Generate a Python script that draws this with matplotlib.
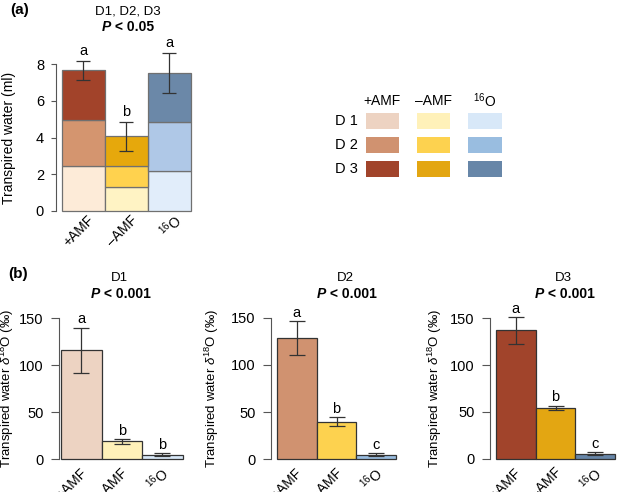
import matplotlib
matplotlib.use("Agg")
import matplotlib.pyplot as plt
from matplotlib.patches import Rectangle

plt.rcParams['font.family'] = ['Liberation Sans', 'DejaVu Sans']
plt.rcParams['mathtext.fontset'] = 'custom'
plt.rcParams['mathtext.rm'] = 'Liberation Sans'
plt.rcParams['mathtext.it'] = 'Liberation Sans:italic'
plt.rcParams['mathtext.bf'] = 'Liberation Sans:bold'

# ---------------- data ----------------
groups = ['+AMF', '\u2013AMF', r'$^{16}$O']
days = ['D 1', 'D 2', 'D 3']

# panel (a): transpired water (ml), per day segment (stacked)
ml_d1 = [2.45, 1.29, 2.19]
ml_d2 = [2.50, 1.17, 2.63]
ml_d3 = [2.70, 1.60, 2.70]
ml_total_err = [0.52, 0.79, 1.10]
ml_letters = ['a', 'b', 'a']

# panel (b): transpired water d18O (permil)
d18o_d1 = [116, 19, 5]
d18o_d1_err = [24, 2.5, 1.5]
d18o_d1_letters = ['a', 'b', 'b']
d18o_d2 = [128.5, 40, 5]
d18o_d2_err = [18, 4.4, 1.2]
d18o_d2_letters = ['a', 'b', 'c']
d18o_d3 = [137, 54.5, 5.5]
d18o_d3_err = [14.5, 2.3, 1.5]
d18o_d3_letters = ['a', 'b', 'c']

# ---------------- styles ----------------
cols_a = [['#FDEBD8', '#FFF3C4', '#E1EDFA'],
          ['#D4956F', '#FFD24E', '#AFC8E7'],
          ['#A2432A', '#E6A80C', '#6B88A8']]
cols_b = [['#EDD3C2', '#FFF1B9', '#D8E8F8'],
          ['#D09270', '#FDD24F', '#99BDE0'],
          ['#A1442B', '#E3A612', '#6786A8']]

W, H = 624, 492
fig = plt.figure(figsize=(W / 100, H / 100), dpi=100)


def add_ax(x0, x1, ytop, ybot):
    return fig.add_axes([x0 / W, 1 - ybot / H, (x1 - x0) / W, (ybot - ytop) / H])


def ftext(x, y, s, **kw):
    fig.text(x / W, 1 - y / H, s, **kw)


def style_ax(ax, ticklen):
    for s in ['top', 'right', 'bottom']:
        ax.spines[s].set_visible(False)
    ax.spines['left'].set_color('#555555')
    ax.spines['left'].set_linewidth(0.8)
    ax.tick_params(axis='y', length=ticklen, width=0.8, color='#555555',
                   labelsize=10.5, pad=5)
    ax.set_xticks([])
    ax.patch.set_visible(False)


def xlabels(ax, dx, dy):
    for i, g in enumerate(groups):
        ax.annotate(g, xy=(i, 0), xycoords='data', xytext=(dx, dy),
                    textcoords='offset points', rotation=45, ha='right',
                    va='center', rotation_mode='anchor', fontsize=10,
                    annotation_clip=False)


# ---------------- panel (a) ----------------
axa = add_ax(56, 191, 64, 211)
x = range(3)
bottom = [0, 0, 0]
for k, seg in enumerate([ml_d1, ml_d2, ml_d3]):
    axa.bar(x, seg, width=1.0, bottom=bottom, color=cols_a[k],
            edgecolor='#707070', linewidth=0.9, clip_on=False, zorder=2)
    bottom = [b + s for b, s in zip(bottom, seg)]
axa.errorbar(x, bottom, yerr=ml_total_err, fmt='none', ecolor='#333333',
             elinewidth=0.9, capsize=5, capthick=0.9, clip_on=False, zorder=3)
for i, (t, e, l) in enumerate(zip(bottom, ml_total_err, ml_letters)):
    axa.annotate(l, xy=(i, t + e), xytext=(0, 2), textcoords='offset points',
                 ha='center', va='bottom', fontsize=10.5, annotation_clip=False)
axa.set_xlim(-0.632, 2.5)
axa.set_ylim(0, 8)
axa.set_yticks([0, 2, 4, 6, 8])
style_ax(axa, 3.6)
xlabels(axa, 6.5, -5)
axa.set_ylabel('Transpired water (ml)', fontsize=10)
axa.yaxis.set_label_coords((16 - 56) / 135, 0.5)

ftext(10, 10, '(a)', fontsize=11, fontweight='bold', ha='left', va='center')
ftext(128, 11, 'D1, D2, D3', fontsize=9.5, ha='center', va='center')
ftext(111, 27, 'P', fontsize=10, fontweight='bold', style='italic', ha='right', va='center')
ftext(111, 27, ' < 0.05', fontsize=10, fontweight='bold', ha='left', va='center')

# legend block
col_x = [(366, 398.7), (417.3, 450), (468.3, 501.7)]
row_y = [(113.3, 129.3), (136.7, 152.7), (161, 176.7)]
for j, g in enumerate(groups):
    ftext((col_x[j][0] + col_x[j][1]) / 2, 101, g, fontsize=10, ha='center', va='center')
for k, d in enumerate(days):
    ftext(358, (row_y[k][0] + row_y[k][1]) / 2, d, fontsize=10.5, ha='right', va='center')
    for j in range(3):
        x0, x1 = col_x[j]
        y0, y1 = row_y[k]
        fig.add_artist(Rectangle((x0 / W, 1 - y1 / H), (x1 - x0) / W, (y1 - y0) / H,
                                 transform=fig.transFigure, facecolor=cols_b[k][j],
                                 edgecolor='none'))

# ---------------- panel (b) ----------------
ftext(8, 274, '(b)', fontsize=11, fontweight='bold', ha='left', va='center')
panels = [
    (59, 182.7, 318.3, 459.3, -0.55, d18o_d1, d18o_d1_err, d18o_d1_letters, 'D1', 119, 16),
    (271, 396.3, 317.7, 459.3, -0.643, d18o_d2, d18o_d2_err, d18o_d2_letters, 'D2', 345, 221),
    (490, 615.3, 318.3, 458.7, -0.643, d18o_d3, d18o_d3_err, d18o_d3_letters, 'D3', 563, 444),
]
for k, (x0, x1, yt, yb, xl, vals, errs, lets, title, tx, ylx) in enumerate(panels):
    ax = add_ax(x0, x1, yt, yb)
    ax.bar(range(3), vals, width=1.0, color=cols_b[k], edgecolor='#333333',
           linewidth=0.9, clip_on=False, zorder=2)
    ax.errorbar(range(3), vals, yerr=errs, fmt='none', ecolor='#333333',
                elinewidth=0.9, capsize=6, capthick=0.9, clip_on=False, zorder=3)
    for i, (v, e, l) in enumerate(zip(vals, errs, lets)):
        ax.annotate(l, xy=(i, v + e), xytext=(0, 1), textcoords='offset points',
                    ha='center', va='bottom', fontsize=10.5, annotation_clip=False)
    ax.set_xlim(xl, 2.5)
    ax.set_ylim(0, 150)
    ax.set_yticks([0, 50, 100, 150])
    style_ax(ax, 6)
    xlabels(ax, 2.5, -8.5)
    ax.set_ylabel(r'Transpired water $\delta^{18}$O (‰)', fontsize=9.5)
    ax.yaxis.set_label_coords((ylx - x0) / (x1 - x0), 0.5)
    ftext(tx, 278, title, fontsize=9.5, ha='center', va='center')
    ftext(tx - 19, 294, 'P', fontsize=10, fontweight='bold', style='italic',
          ha='right', va='center')
    ftext(tx - 19, 294, ' < 0.001', fontsize=10, fontweight='bold',
          ha='left', va='center')

fig.savefig('out.png', dpi=100)
